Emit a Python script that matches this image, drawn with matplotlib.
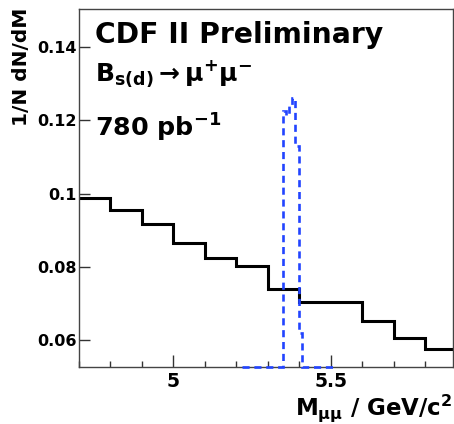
import numpy as np
import matplotlib
matplotlib.use('Agg')
import matplotlib.pyplot as plt
from matplotlib.ticker import MultipleLocator

plt.rcParams['font.family'] = ['DejaVu Sans']
plt.rcParams['mathtext.fontset'] = 'dejavusans'
plt.rcParams['mathtext.default'] = 'bf'

# background (black) histogram, 0.1 GeV bins
bkg_edges = [4.7, 4.8, 4.9, 5.0, 5.1, 5.2, 5.3, 5.4, 5.5, 5.6, 5.7, 5.8, 5.9]
bkg_vals = [0.0989, 0.0956, 0.0916, 0.0865, 0.0825, 0.0802, 0.0741,
            0.0704, 0.0704, 0.0653, 0.0605, 0.0575]

# signal (blue dashed) histogram, 0.01 GeV bins
sig_edges = [5.218, 5.228, 5.238, 5.248, 5.258, 5.268, 5.278, 5.288, 5.298,
             5.308, 5.318, 5.328, 5.338, 5.348, 5.358, 5.368, 5.378, 5.388,
             5.398, 5.408, 5.418, 5.428, 5.438, 5.448, 5.458, 5.468, 5.478,
             5.488, 5.498, 5.508]
sig_vals = [0, 0, 0, 0, 0, 0, 0, 0, 0, 0, 0, 0, 0,
            0.1225, 0.1215, 0.1240, 0.1260, 0.1130, 0.0620,
            0, 0, 0, 0, 0, 0, 0, 0, 0, 0]

xticks = [5.0, 5.5]
xticklabels = ['5', '5.5']
yticks = [0.06, 0.08, 0.1, 0.12, 0.14]
yticklabels = ['0.06', '0.08', '0.1', '0.12', '0.14']

xlim = (4.7, 5.89)
ylim = (0.0527, 0.1503)

fig = plt.figure(figsize=(4.54, 4.24), dpi=100)
ax = fig.add_axes([0.174, 0.1344, 0.8245, 0.8444])

ax.stairs(bkg_vals, bkg_edges, baseline=None, color='black', lw=2.2)

# empty bins sit on the frame like in ROOT
sig_plot = np.maximum(np.array(sig_vals, dtype=float), ylim[0])
ax.stairs(sig_plot, sig_edges, baseline=None, color='#2244ff', lw=1.9,
          linestyle=(0, (2.7, 1.8)), clip_on=False, zorder=3)

ax.set_xlim(*xlim)
ax.set_ylim(*ylim)

ax.set_xticks(xticks)
ax.set_xticklabels(xticklabels)
ax.xaxis.set_minor_locator(MultipleLocator(0.1))
ax.set_yticks(yticks)
ax.set_yticklabels(yticklabels)

ax.tick_params(axis='both', which='both', direction='in', color='#333333')
ax.tick_params(axis='y', which='major', length=8, width=1.0, pad=1.5,
               labelsize=11.5)
ax.tick_params(axis='x', which='major', length=8.5, width=1.0, pad=3.5,
               labelsize=13.5)
ax.tick_params(axis='x', which='minor', length=4.5, width=1.0)
for lab in ax.get_xticklabels() + ax.get_yticklabels():
    lab.set_fontweight('bold')

for s in ax.spines.values():
    s.set_color('#444444')
    s.set_linewidth(1.0)

fig.text(0.047, 0.981, '1/N dN/dM', rotation=90, ha='center', va='top',
         fontsize=14.5, fontweight='bold')

fig.text(0.997, 0.021, r'M$_{\mu\mu}$ / GeV/c$^{2}$', ha='right', va='baseline',
         fontsize=16.5, fontweight='bold')

fig.text(0.209, 0.898, 'CDF II Preliminary', fontsize=20.3,
         fontweight='bold', va='baseline')
fig.text(0.209, 0.806, r'$B_{s(d)}\rightarrow\mu^{+}\mu^{-}$', fontsize=18,
         va='baseline')
fig.text(0.209, 0.677, r'780 pb$^{-1}$', fontsize=18.3, fontweight='bold',
         va='baseline')

fig.savefig('out.png', dpi=100)
